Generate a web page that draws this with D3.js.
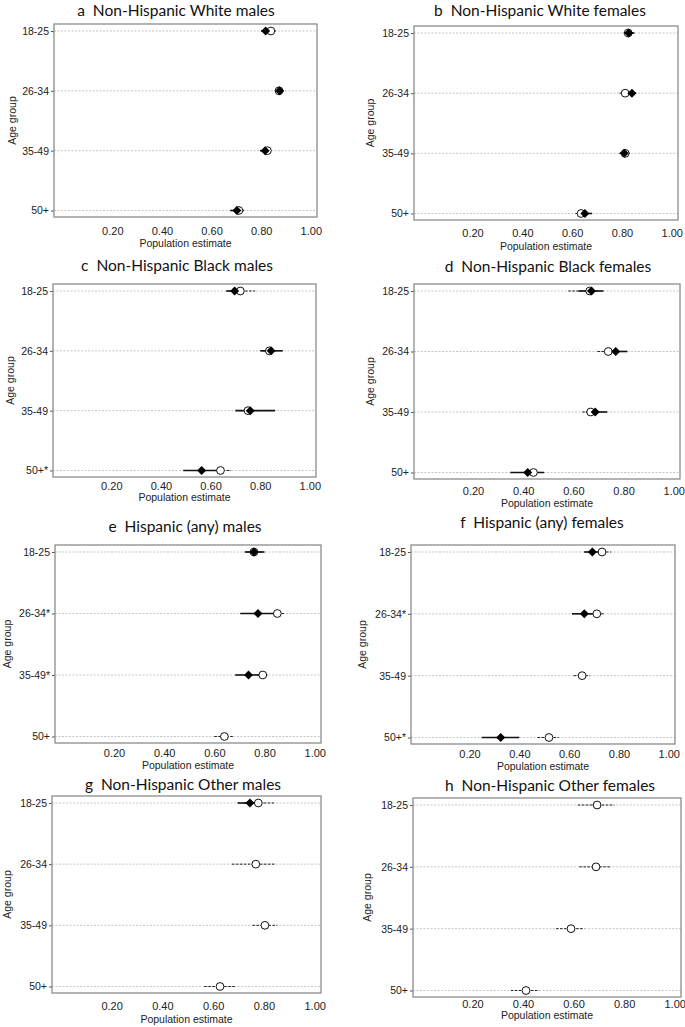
<!DOCTYPE html>
<html>
<head>
<meta charset="utf-8">
<script src="https://cdn.jsdelivr.net/npm/d3@7"></script>
<style>
  body { margin: 0; background: #ffffff; }
  .tick text { font-family: "Liberation Sans", Arial, sans-serif; }
</style>
</head>
<body>
<div id="chart"></div>
<script>
// panel titles and age labels
var panelTitles = [
    "a  Non-Hispanic White males", "b  Non-Hispanic White females",
    "c  Non-Hispanic Black males", "d  Non-Hispanic Black females",
    "e  Hispanic (any) males", "f  Hispanic (any) females",
    "g  Non-Hispanic Other males", "h  Non-Hispanic Other females"
];
var ageLabels = [
    ["18-25", "26-34", "35-49", "50+"],
    ["18-25", "26-34", "35-49", "50+"],
    ["18-25", "26-34", "35-49", "50+*"],
    ["18-25", "26-34", "35-49", "50+"],
    ["18-25", "26-34*", "35-49*", "50+"],
    ["18-25", "26-34*", "35-49", "50+*"],
    ["18-25", "26-34", "35-49", "50+"],
    ["18-25", "26-34", "35-49", "50+"]
];
var xTicks = [0.2, 0.4, 0.6, 0.8, 1.0];

// filled diamond series (solid CI)
var diamondEst = [
    [0.818, 0.874, 0.816, 0.702],
    [0.827, 0.840, 0.809, 0.651],
    [0.697, 0.844, 0.760, 0.564],
    [0.672, 0.769, 0.687, 0.418],
    [0.758, 0.774, 0.736, null],
    [0.693, 0.661, null, 0.325],
    [0.745, null, null, null],
    [null, null, null, null]
];
var diamondLo = [
    [0.800, 0.858, 0.795, 0.675],
    [0.807, 0.822, 0.790, 0.630],
    [0.663, 0.800, 0.700, 0.490],
    [0.620, 0.730, 0.650, 0.349],
    [0.721, 0.703, 0.683, null],
    [0.660, 0.611, null, 0.249],
    [0.696, null, null, null],
    [null, null, null, null]
];
var diamondHi = [
    [0.835, 0.890, 0.835, 0.730],
    [0.850, 0.857, 0.830, 0.680],
    [0.735, 0.891, 0.860, 0.635],
    [0.720, 0.815, 0.735, 0.484],
    [0.800, 0.840, 0.785, null],
    [0.730, 0.710, null, 0.400],
    [0.770, null, null, null],
    [null, null, null, null]
];

// hollow circle series (dashed CI)
var circleEst = [
    [0.839, 0.872, 0.825, 0.710],
    [0.825, 0.813, 0.813, 0.636],
    [0.720, 0.837, 0.751, 0.640],
    [0.665, 0.739, 0.669, 0.441],
    [0.758, 0.851, 0.793, 0.640],
    [0.732, 0.711, 0.652, 0.519],
    [0.778, 0.768, 0.804, 0.627],
    [0.693, 0.689, 0.590, 0.412]
];
var circleLo = [
    [0.820, 0.855, 0.810, 0.690],
    [0.810, 0.790, 0.795, 0.613],
    [0.675, 0.810, 0.720, 0.600],
    [0.580, 0.696, 0.636, 0.410],
    [0.730, 0.820, 0.770, 0.600],
    [0.700, 0.680, 0.618, 0.473],
    [0.720, 0.674, 0.755, 0.565],
    [0.617, 0.623, 0.531, 0.352]
];
var circleHi = [
    [0.860, 0.890, 0.840, 0.730],
    [0.845, 0.835, 0.830, 0.660],
    [0.780, 0.865, 0.790, 0.683],
    [0.700, 0.780, 0.700, 0.475],
    [0.790, 0.884, 0.815, 0.679],
    [0.769, 0.743, 0.684, 0.558],
    [0.846, 0.843, 0.853, 0.689],
    [0.762, 0.749, 0.643, 0.464]
];

var layout = [
    {x0: 54, x1: 317, y0: 24, y1: 217, titleX: 176, titleY: 15.5, tickY: 231, labY: 243, ageX: 12},
    {x0: 414, x1: 678, y0: 26, y1: 220, titleX: 540, titleY: 15.5, tickY: 233, labY: 246, ageX: 370},
    {x0: 53, x1: 316, y0: 284, y1: 477, titleX: 177, titleY: 271, tickY: 486, labY: 497, ageX: 10},
    {x0: 414, x1: 680, y0: 284, y1: 479, titleX: 548, titleY: 272, tickY: 491, labY: 503, ageX: 370},
    {x0: 55, x1: 321, y0: 545, y1: 743, titleX: 185, titleY: 532, tickY: 753, labY: 765, ageX: 7},
    {x0: 411, x1: 675, y0: 545, y1: 744, titleX: 542, titleY: 528, tickY: 754, labY: 766, ageX: 362},
    {x0: 52, x1: 321, y0: 796, y1: 993, titleX: 183, titleY: 790, tickY: 1006, labY: 1019, ageX: 7},
    {x0: 413, x1: 681, y0: 798, y1: 997, titleX: 550, titleY: 791, tickY: 1004, labY: 1015, ageX: 367}
];

var svg = d3.select("#chart")
    .append("svg")
    .attr("width", 685)
    .attr("height", 1027);

function diamond(cx, cy, r)
{
    return "M" + cx + "," + (cy - r) + "L" + (cx + r) + "," + cy +
        "L" + cx + "," + (cy + r) + "L" + (cx - r) + "," + cy + "Z";
}

function drawPanel(p)
{
    var L = layout[p];
    var g = svg.append("g");

    var x = d3.scaleLinear()
        .domain([-0.035, 1.025])
        .range([L.x0, L.x1]);
    var y = d3.scalePoint()
        .domain(d3.range(4))
        .range([L.y0 + 7, L.y1 - 6.5]);

    // title (keep the double space after the letter)
    g.append("text")
        .attr("x", L.titleX)
        .attr("y", L.titleY)
        .attr("text-anchor", "middle")
        .style("white-space", "pre")
        .style("font-family", "Lato, 'Open Sans', sans-serif")
        .style("font-size", "15.5px")
        .style("fill", "#111")
        .text(panelTitles[p]);

    // dashed grid at each age group
    g.selectAll(".grid")
        .data(d3.range(4))
        .enter()
        .append("line")
        .attr("x1", L.x0)
        .attr("x2", L.x1)
        .attr("y1", function(d) { return y(d); })
        .attr("y2", function(d) { return y(d); })
        .style("stroke", "#b8b8b8")
        .style("stroke-width", 0.8)
        .style("stroke-dasharray", "2,1.5");

    // x axis (labels only)
    var xa = g.append("g")
        .attr("transform", "translate(0," + L.y1 + ")")
        .call(d3.axisBottom(x).tickValues(xTicks).tickSize(0).tickPadding(0).tickFormat(d3.format(".2f")));
    xa.select(".domain").remove();
    xa.selectAll("text")
        .attr("y", L.tickY - L.y1 + 4)
        .attr("dy", null)
        .style("font-size", "11px")
        .style("fill", "#222");

    // y axis
    var ya = g.append("g")
        .attr("transform", "translate(" + L.x0 + ",0)")
        .call(d3.axisLeft(y).tickSize(3).tickPadding(2).tickFormat(function(d) { return ageLabels[p][d]; }));
    ya.select(".domain").remove();
    ya.selectAll("line").style("stroke", "#555");
    ya.selectAll("text")
        .style("font-size", "10.5px")
        .style("fill", "#222");

    // axis titles
    g.append("text")
        .attr("x", (L.x0 + L.x1) / 2)
        .attr("y", L.labY + 4)
        .attr("text-anchor", "middle")
        .style("font-family", "'Liberation Sans', Arial, sans-serif")
        .style("font-size", "10.5px")
        .style("fill", "#222")
        .text("Population estimate");
    g.append("text")
        .attr("transform", "translate(" + (L.ageX + 4) + "," + ((L.y0 + L.y1) / 2) + ") rotate(-90)")
        .attr("text-anchor", "middle")
        .style("font-family", "'Liberation Sans', Arial, sans-serif")
        .style("font-size", "10.5px")
        .style("fill", "#222")
        .text("Age group");

    var rows = d3.range(4);

    // dashed CI for hollow circles
    g.selectAll(".cci")
        .data(rows.filter(function(i) { return circleEst[p][i] != null; }))
        .enter()
        .append("line")
        .attr("x1", function(i) { return x(circleLo[p][i]); })
        .attr("x2", function(i) { return x(circleHi[p][i]); })
        .attr("y1", function(i) { return y(i); })
        .attr("y2", function(i) { return y(i); })
        .style("stroke", "#222")
        .style("stroke-width", 1)
        .style("stroke-dasharray", "2.5,1.5");

    // solid CI for diamonds
    g.selectAll(".dci")
        .data(rows.filter(function(i) { return diamondEst[p][i] != null; }))
        .enter()
        .append("line")
        .attr("x1", function(i) { return x(diamondLo[p][i]); })
        .attr("x2", function(i) { return x(diamondHi[p][i]); })
        .attr("y1", function(i) { return y(i); })
        .attr("y2", function(i) { return y(i); })
        .style("stroke", "#111")
        .style("stroke-width", 1.6);

    g.selectAll(".circ")
        .data(rows.filter(function(i) { return circleEst[p][i] != null; }))
        .enter()
        .append("circle")
        .attr("cx", function(i) { return x(circleEst[p][i]); })
        .attr("cy", function(i) { return y(i); })
        .attr("r", 3.9)
        .style("fill", "#fff")
        .style("stroke", "#111")
        .style("stroke-width", 1);

    g.selectAll(".diam")
        .data(rows.filter(function(i) { return diamondEst[p][i] != null; }))
        .enter()
        .append("path")
        .attr("d", function(i) { return diamond(x(diamondEst[p][i]), y(i), 4.5); })
        .style("fill", "#000");

    // plot box
    g.append("rect")
        .attr("x", L.x0)
        .attr("y", L.y0)
        .attr("width", L.x1 - L.x0)
        .attr("height", L.y1 - L.y0)
        .style("fill", "none")
        .style("stroke", "#8c8c8c")
        .style("stroke-width", 1.3);
}

for (var p = 0; p < 8; p++)
    drawPanel(p);
</script>
</body>
</html>
